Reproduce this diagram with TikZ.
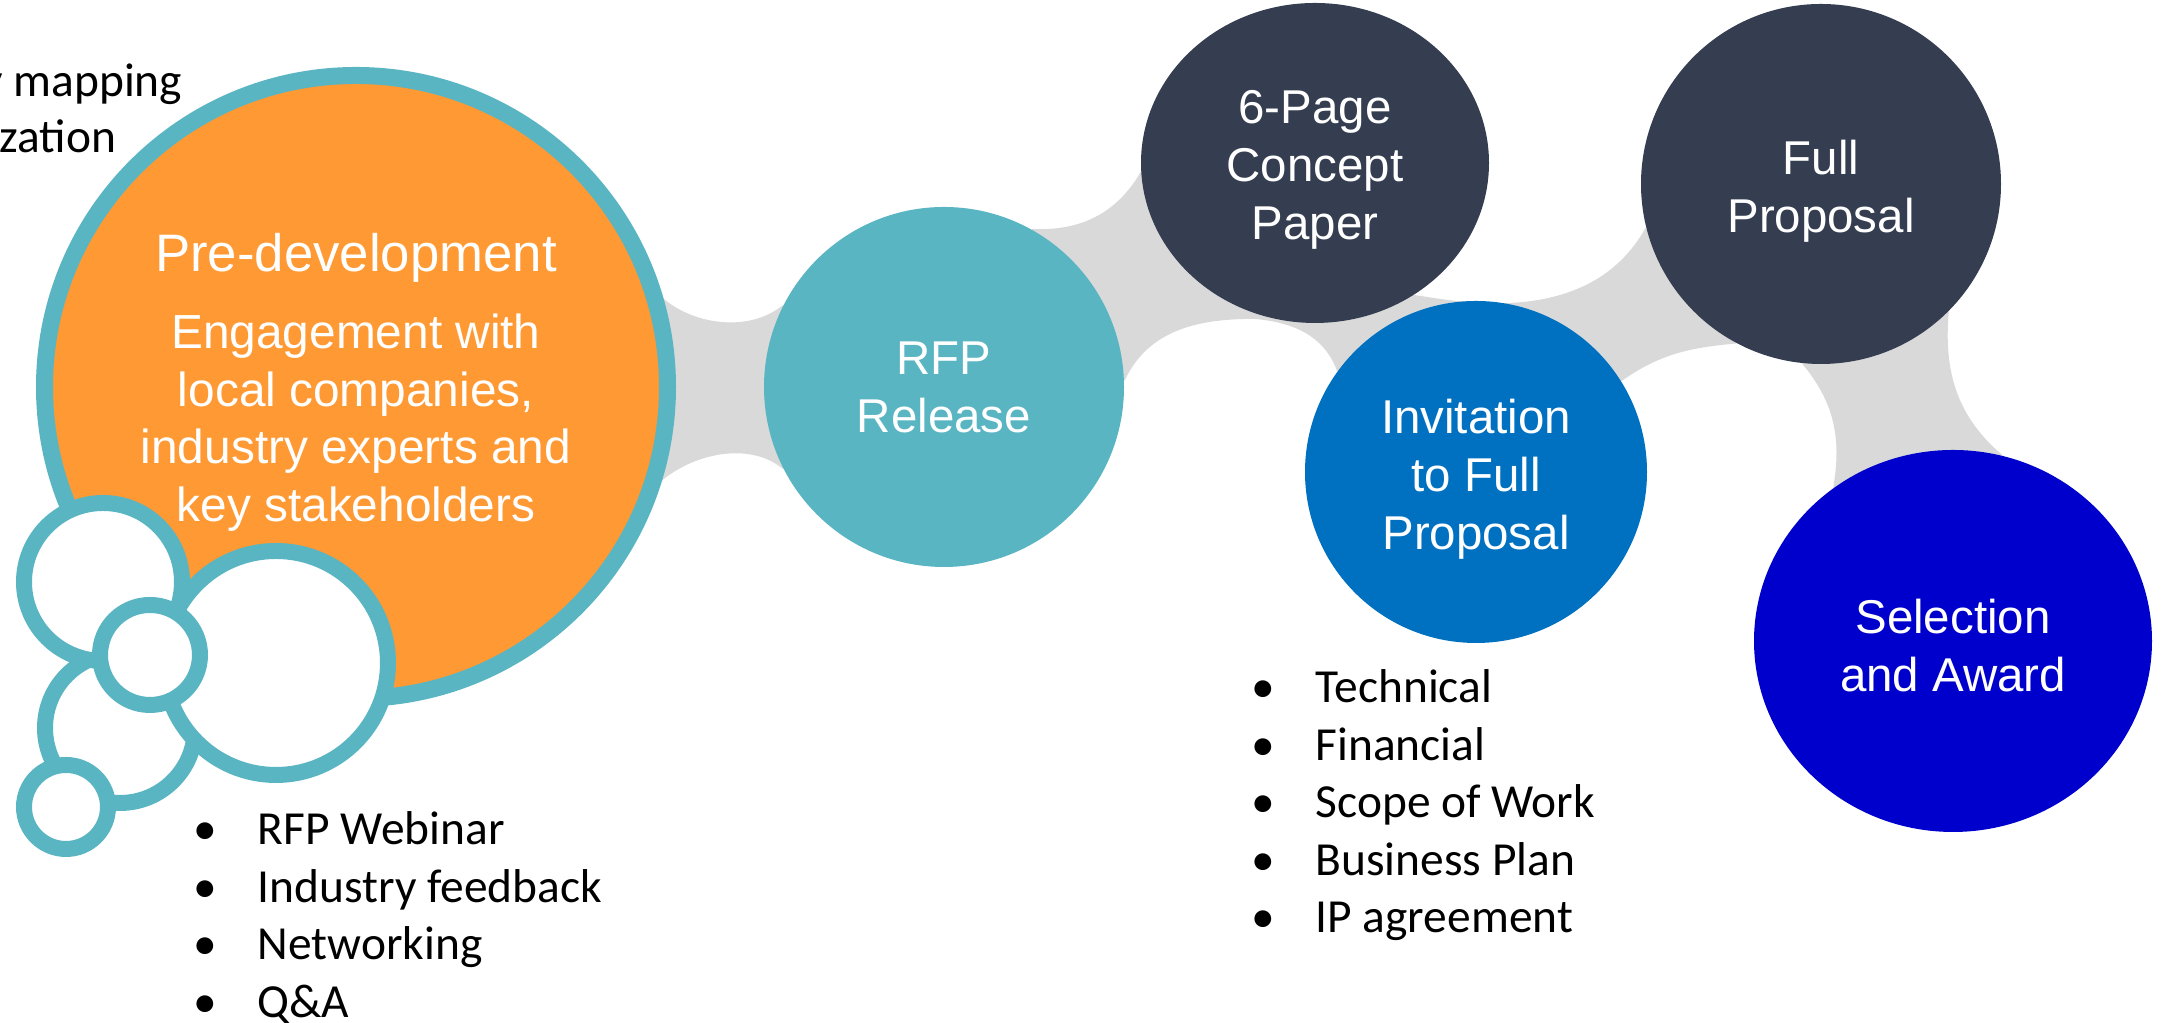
\documentclass[tikz,border=0pt]{standalone}
\usepackage{fontspec}
\setmainfont{Liberation Sans}
\newfontfamily\calibri{Carlito}
\usetikzlibrary{shapes.geometric,backgrounds}

\definecolor{ringteal}{RGB}{90,181,195}
\definecolor{preorange}{RGB}{255,153,51}
\definecolor{slate}{RGB}{53,62,80}
\definecolor{stageblue}{RGB}{0,112,192}
\definecolor{awardblue}{RGB}{0,0,204}
\definecolor{bridgegray}{RGB}{217,217,217}

\begin{document}
\begin{tikzpicture}[
    stage/.style={circle, inner sep=0pt},
    caption/.style={inner sep=0pt, text=white, align=center,
      font=\fontsize{13.5}{16.5}\selectfont},
    puff/.style={circle, draw=ringteal, fill=white, line width=0.16cm, inner sep=0pt},
    bridge/.style={fill=bridgegray},
    point/.style={anchor=base west, inner sep=0pt, font=\calibri\fontsize{13.5}{16}\selectfont},
    note/.style={anchor=base east, inner sep=0pt, font=\calibri\fontsize{13.5}{16}\selectfont}]
  \useasboundingbox (0,0) rectangle (21.64,10.23);

  % left-over notes at the margin
  \node[note] (mapping) at (1.83,9.26) {y mapping};
  \node[note] (zation) at (1.17,8.70) {zation};

  % pre-development bubble
  \node[stage, minimum size=6.23cm, fill=preorange, draw=ringteal, line width=0.17cm]
    (pre) at (3.56,6.36) {};
  \node[caption, font=\fontsize{13.6}{16.4}\selectfont] (pre-text) at ([yshift=1.3pt]pre)
    {{\fontsize{15}{16.4}\selectfont Pre-development}\\[5.5pt]
     Engagement with\\local companies,\\industry experts and\\key stakeholders};
  \node[puff, minimum size=1.50cm] (puff4) at (1.20,2.95) {};
  \node[puff, minimum size=1.58cm] (puff1) at (1.03,4.41) {};
  \node[puff, minimum size=2.24cm] (puff2) at (2.76,3.60) {};
  \node[puff, minimum size=1.00cm] (puff3) at (1.50,3.68) {};
  \node[puff, minimum size=0.84cm] (puff5) at (0.66,2.16) {};

  % stages
  \node[stage, minimum size=3.60cm, fill=ringteal] (rfp) at (9.44,6.36) {};
  \node[stage, ellipse, minimum width=3.48cm, minimum height=3.20cm, fill=slate] (concept)
    at (13.15,8.60) {};
  \node[stage, minimum size=3.42cm, fill=stageblue] (invite) at (14.76,5.51) {};
  \node[stage, minimum size=3.60cm, fill=slate] (full) at (18.21,8.39) {};
  \node[stage, ellipse, minimum width=3.98cm, minimum height=3.82cm, fill=awardblue] (award)
    at (19.53,3.82) {};

  \node[caption] (rfp-text) at (rfp) {RFP\\Release};
  \node[caption] (concept-text) at ([yshift=-2pt]concept) {6-Page\\Concept\\Paper};
  \node[caption] (invite-text) at ([yshift=-2pt]invite) {Invitation\\to Full\\Proposal};
  \node[caption] (full-text) at ([yshift=-2.2pt]full) {Full\\Proposal};
  \node[caption] (award-text) at ([yshift=-1.2pt]award) {Selection\\and Award};

  % grey necks between the stages
  \begin{pgfonlayer}{background}
    \fill[bridge] (pre.16) to[out=-40,in=-140,looseness=0.9] (rfp.153)
      -- (rfp.207) to[out=140,in=40,looseness=0.9] (pre.-17) -- cycle;
    \fill[bridge] (rfp.61) to[out=-3,in=-120] (concept.183)
      -- (concept.-53) to[out=-8,in=-119,out distance=0.41cm,in distance=1.17cm] (full.194)
      -- (full.-118) to[out=185,in=35] (invite.32)
      -- (invite.144) to[out=110,in=-5] ([yshift=-1.5pt]concept.-112)
      to[out=180,in=65] (rfp.2) -- cycle;
    \fill[bridge] (full.-96) to[out=-50,in=80] (award.128)
      -- (award.75) to[out=140,in=-95] (full.-45) -- cycle;
  \end{pgfonlayer}

  % bullet lists
  \foreach \txt [count=\i] in {RFP Webinar, Industry feedback, Networking, Q\&A}
    \node[point] (event\i) at (1.93,{2.355-0.575*\i}) {\makebox[0.64cm][l]{\textbullet}\txt};
  \foreach \txt [count=\i] in {Technical, Financial, Scope of Work, Business Plan, IP agreement}
    \node[point] (check\i) at (12.51,{3.775-0.575*\i}) {\makebox[0.64cm][l]{\textbullet}\txt};
\end{tikzpicture}
\end{document}
